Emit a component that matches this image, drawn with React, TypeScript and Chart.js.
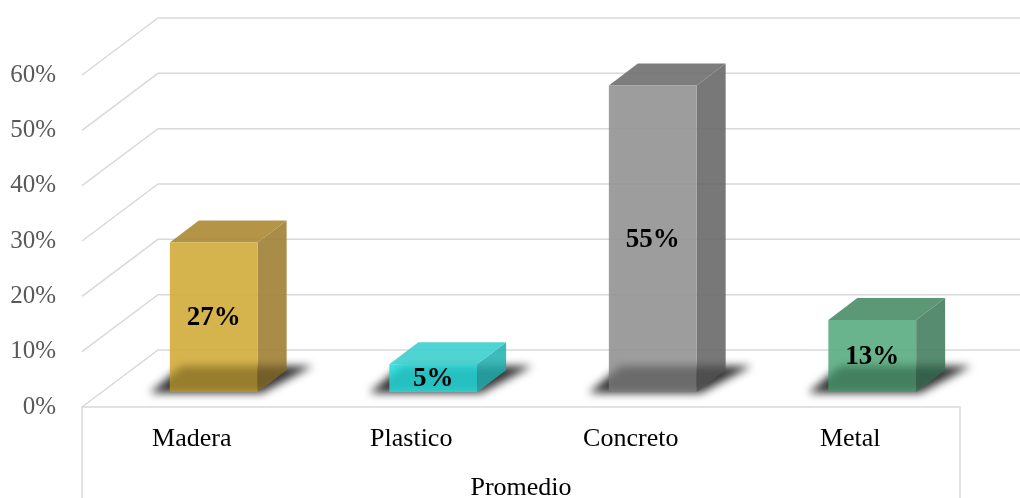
import React, { useEffect, useRef } from "react";
import { Chart, registerables } from "chart.js";

Chart.register(...registerables);

// ---- data ----
const categories = ["Madera", "Plastico", "Concreto", "Metal"];
const values = [0.27, 0.05, 0.554, 0.13];
const valueLabels = ["27%", "5%", "55%", "13%"];
const yTickLabels = ["0%", "10%", "20%", "30%", "40%", "50%", "60%"];
const axisTitle = "Promedio";

// ---- styles ----
const frontColors = ["rgb(209,172,58)", "rgb(40,224,224)", "rgb(146,146,146)", "rgb(89,172,127)"];
const topColors = ["rgb(172,138,52)", "rgb(60,206,206)", "rgb(111,111,111)", "rgb(74,140,103)"];
const sideColors = ["rgb(158,127,52)", "rgb(40,178,178)", "rgb(105,105,105)", "rgb(69,127,96)"];
const FACE_ALPHA = 0.9;
const GRID_COLOR = "#D9D9D9";
const WALL_DX = 76;
const WALL_DY = -57;
const BAR_DX = 22;
const BAR_DY = -15;
const DEPTH_DX = 29;
const DEPTH_DY = -22;
const SERIF = "'Liberation Serif', 'Times New Roman', serif";

const path = (ctx: CanvasRenderingContext2D, pts: number[][]) => {
  ctx.moveTo(pts[0][0], pts[0][1]);
  for (let i = 1; i < pts.length; i++) ctx.lineTo(pts[i][0], pts[i][1]);
  ctx.closePath();
};

const poly = (ctx: CanvasRenderingContext2D, pts: number[][], fill: string) => {
  ctx.beginPath();
  path(ctx, pts);
  ctx.fillStyle = fill;
  ctx.fill();
};

const shadowPts = (b: any) => [
  [b.fl - 20, b.fb + 1],
  [b.fr + 4, b.fb + 1],
  [b.fr + DEPTH_DX + 26, b.fb - 26],
  [b.fl + 12, b.fb - 26],
];

const perspectivePlugin = {
  id: "perspective3d",
  beforeDatasetsDraw(chart: any) {
    const { ctx, chartArea, scales } = chart;
    const y = scales.y;
    ctx.save();
    ctx.strokeStyle = GRID_COLOR;
    ctx.lineWidth = 1.5;
    y.ticks.forEach((t: any) => {
      const py = y.getPixelForValue(t.value);
      ctx.beginPath();
      ctx.moveTo(chartArea.left, py);
      ctx.lineTo(chartArea.left + WALL_DX, py + WALL_DY);
      ctx.lineTo(chart.width, py + WALL_DY);
      ctx.stroke();
    });
    const py0 = y.getPixelForValue(0);
    ctx.beginPath();
    ctx.moveTo(chartArea.left, chart.height);
    ctx.lineTo(chartArea.left, py0);
    ctx.lineTo(chartArea.right, py0);
    ctx.lineTo(chartArea.right, chart.height);
    ctx.stroke();
    ctx.restore();
  },
  afterDatasetsDraw(chart: any) {
    const { ctx } = chart;
    const meta = chart.getDatasetMeta(0);
    const boxes = meta.data.map((el: any) => {
      const p = el.getProps(["x", "y", "base", "width"], true);
      const fl = p.x - p.width / 2 + BAR_DX;
      const fr = p.x + p.width / 2 + BAR_DX;
      const ft = p.y + BAR_DY;
      const fb = p.base + BAR_DY;
      return { fl, fr, ft, fb };
    });
    // floor shadows
    ctx.save();
    ctx.filter = "blur(4px)";
    boxes.forEach((b: any) => poly(ctx, shadowPts(b), "rgba(0,0,0,0.8)"));
    ctx.restore();
    // boxes
    boxes.forEach((b: any, i: number) => {
      const side = [
        [b.fr, b.ft],
        [b.fr + DEPTH_DX, b.ft + DEPTH_DY],
        [b.fr + DEPTH_DX, b.fb + DEPTH_DY],
        [b.fr, b.fb],
      ];
      const top = [
        [b.fl, b.ft],
        [b.fl + DEPTH_DX, b.ft + DEPTH_DY],
        [b.fr + DEPTH_DX, b.ft + DEPTH_DY],
        [b.fr, b.ft],
      ];
      const front = [
        [b.fl, b.ft],
        [b.fr, b.ft],
        [b.fr, b.fb],
        [b.fl, b.fb],
      ];
      ctx.save();
      ctx.globalAlpha = FACE_ALPHA;
      poly(ctx, side, sideColors[i]);
      poly(ctx, top, topColors[i]);
      poly(ctx, front, frontColors[i]);
      ctx.restore();
      // shadow seen through the translucent base of the bar
      const strength = Math.max(0.25, Math.min(1, (b.fb - b.ft) / 80));
      ctx.save();
      ctx.beginPath();
      path(ctx, front);
      path(ctx, side);
      ctx.clip();
      ctx.filter = "blur(4px)";
      poly(ctx, shadowPts(b), `rgba(0,0,0,${0.22 * strength})`);
      ctx.restore();
    });
    // labels
    ctx.save();
    ctx.font = `bold 27px ${SERIF}`;
    ctx.fillStyle = "#000";
    ctx.textAlign = "center";
    ctx.textBaseline = "middle";
    boxes.forEach((b: any, i: number) => {
      ctx.fillText(valueLabels[i], (b.fl + b.fr) / 2, (b.ft + b.fb) / 2 + 1);
    });
    ctx.restore();
  },
};

export default function App() {
  const ref = useRef<HTMLCanvasElement | null>(null);
  useEffect(() => {
    if (!ref.current) return;
    const chart = new Chart(ref.current, {
      type: "bar",
      data: {
        labels: categories,
        datasets: [
          {
            data: values,
            backgroundColor: "rgba(0,0,0,0)",
            borderWidth: 0,
            barPercentage: 0.4,
            categoryPercentage: 1,
          },
        ],
      },
      options: {
        responsive: false,
        animation: false,
        layout: { padding: { top: 75, right: 60, left: 0, bottom: 0 } },
        plugins: { legend: { display: false }, tooltip: { enabled: false } },
        scales: {
          x: {
            grid: { display: false, drawTicks: false },
            border: { display: false },
            ticks: {
              color: "#000",
              font: { family: SERIF, size: 26 },
              padding: 17,
              autoSkip: false,
              maxRotation: 0,
            },
            title: {
              display: true,
              text: axisTitle,
              color: "#000",
              font: { family: SERIF, size: 26, lineHeight: "20px" },
              padding: { top: 0, bottom: 0 },
            },
            afterFit: (s: any) => {
              s.height = 91;
            },
          },
          y: {
            min: 0,
            max: 0.6,
            grid: { display: false, drawTicks: false },
            border: { display: false },
            ticks: {
              stepSize: 0.1,
              color: "#595959",
              font: { family: SERIF, size: 25 },
              padding: 26,
              callback: (_v: any, i: number) => yTickLabels[i],
            },
            afterFit: (s: any) => {
              s.width = 82;
            },
          },
        },
      },
      plugins: [perspectivePlugin],
    } as any);
    return () => chart.destroy();
  }, []);
  return (
    <div style={{ position: "fixed", left: 0, top: 0, width: 1020, height: 498, background: "#fff" }}>
      <canvas ref={ref} width={1020} height={498} />
    </div>
  );
}
